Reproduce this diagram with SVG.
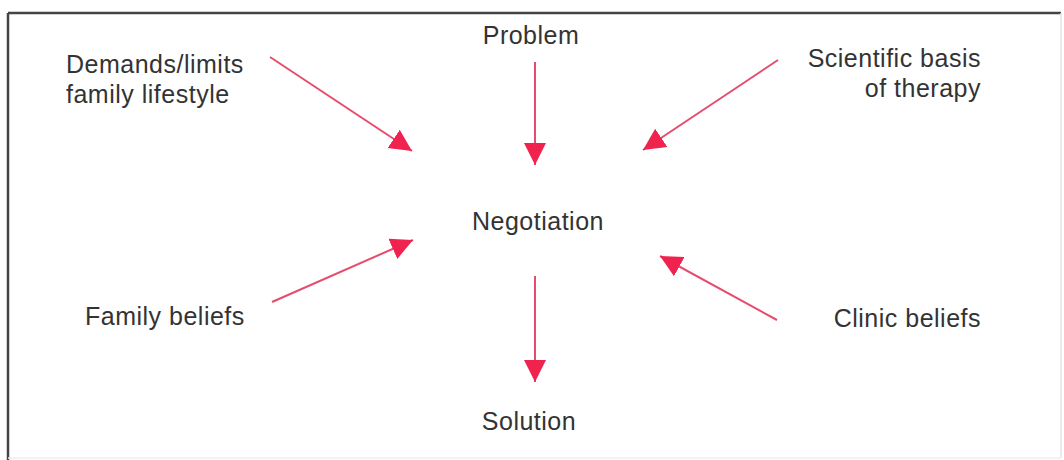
<svg xmlns="http://www.w3.org/2000/svg" width="1064" height="460" viewBox="0 0 1064 460">
<style>
.t{font-family:"Liberation Sans",Arial,sans-serif;font-size:25px;fill:#333;letter-spacing:0.5px}
.c{stroke:#e64c6e;stroke-width:2;fill:none}
</style>
<defs>
<marker id="ah" markerUnits="userSpaceOnUse" markerWidth="24" markerHeight="24" viewBox="0 0 24 24" refX="22" refY="12" orient="auto">
<path d="M0,1 L22,12 L0,23 Z" fill="#f0234f"/>
</marker>
</defs>
<rect width="1064" height="460" fill="#fff"/>
<g id="frame">
<line x1="8" y1="13" x2="1061" y2="13" stroke="#444" stroke-width="2.5"/>
<line x1="8" y1="13" x2="8" y2="460" stroke="#444" stroke-width="2.5"/>
<line x1="1061" y1="13" x2="1061" y2="458" stroke="#e4e4e4" stroke-width="1.5"/>
<line x1="8" y1="458" x2="1061" y2="458" stroke="#eee" stroke-width="1.5"/>
</g>
<g id="connectors">
<line class="c" x1="535" y1="62" x2="535" y2="165" marker-end="url(#ah)"/>
<line class="c" x1="535" y1="276" x2="535" y2="382" marker-end="url(#ah)"/>
<line class="c" x1="270" y1="57" x2="412" y2="151" marker-end="url(#ah)"/>
<line class="c" x1="778" y1="60" x2="643" y2="150" marker-end="url(#ah)"/>
<line class="c" x1="272" y1="302" x2="413" y2="240" marker-end="url(#ah)"/>
<line class="c" x1="777" y1="320" x2="660" y2="256" marker-end="url(#ah)"/>
</g>
<g id="problem"><text class="t" x="531" y="44" text-anchor="middle">Problem</text></g>
<g id="demands"><text class="t" x="66" y="73">Demands/limits</text><text class="t" x="66" y="103">family lifestyle</text></g>
<g id="scientific"><text class="t" x="981" y="67" text-anchor="end">Scientific basis</text><text class="t" x="981" y="97" text-anchor="end">of therapy</text></g>
<g id="negotiation"><text class="t" x="538" y="230" text-anchor="middle">Negotiation</text></g>
<g id="family"><text class="t" x="85" y="325">Family beliefs</text></g>
<g id="clinic"><text class="t" x="981" y="327" text-anchor="end">Clinic beliefs</text></g>
<g id="solution"><text class="t" x="529" y="430" text-anchor="middle">Solution</text></g>
</svg>
